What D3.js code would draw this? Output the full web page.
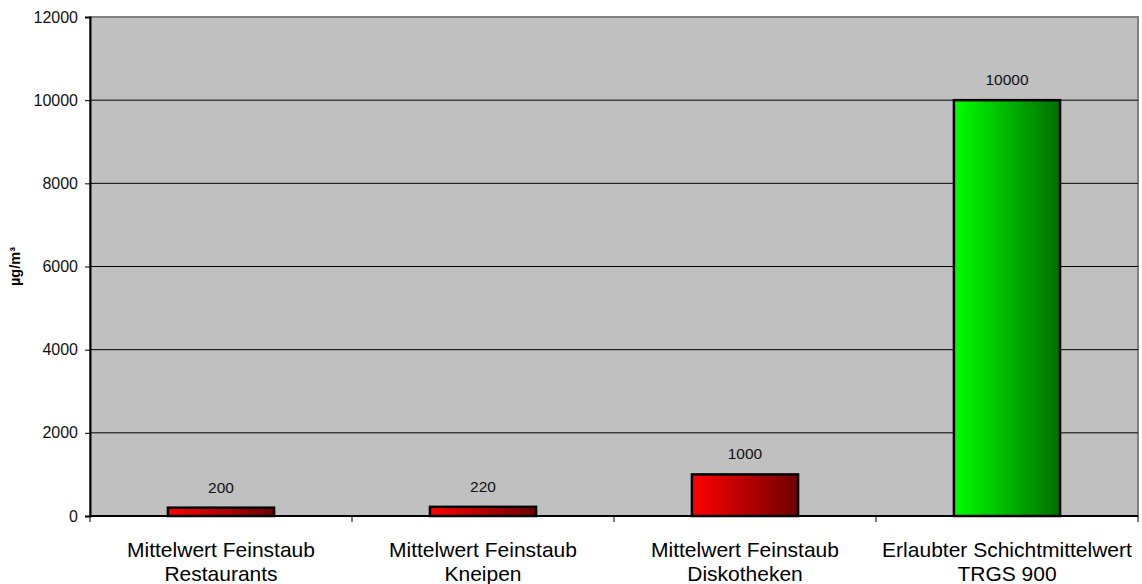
<!DOCTYPE html>
<html>
<head>
<meta charset="utf-8">
<script src="https://d3js.org/d3.v7.min.js"></script>
<style>
  body { margin: 0; background: #fff; font-family: "Liberation Sans", Arial, sans-serif; }
</style>
</head>
<body>
<script>
// chart data
var categories = [
  ["Mittelwert Feinstaub", "Restaurants"],
  ["Mittelwert Feinstaub", "Kneipen"],
  ["Mittelwert Feinstaub", "Diskotheken"],
  ["Erlaubter Schichtmittelwert", "TRGS 900"]
];
var values = [200, 220, 1000, 10000];
var barKind = ["red", "red", "red", "green"];
var yTicks = [0, 2000, 4000, 6000, 8000, 10000, 12000];

var width = 1142, height = 584;
var margin = {left: 90, right: 4, top: 17, bottom: 68};

var svg = d3.select("body").append("svg")
  .attr("width", width).attr("height", height);

var defs = svg.append("defs");
var grads = {red: ["#ff0000", "#6e0000"], green: ["#00ff00", "#006e00"]};
Object.keys(grads).forEach(function(k) {
  var lg = defs.append("linearGradient").attr("id", "g-" + k)
    .attr("x1", "0%").attr("x2", "100%").attr("y1", "0%").attr("y2", "0%");
  lg.append("stop").attr("offset", "0%").attr("stop-color", grads[k][0]);
  lg.append("stop").attr("offset", "100%").attr("stop-color", grads[k][1]);
});

var x = d3.scaleBand()
  .domain(d3.range(categories.length))
  .range([margin.left, width - margin.right])
  .paddingInner(0.595).paddingOuter(0.2975);

var y = d3.scaleLinear().domain([0, 12000])
  .range([height - margin.bottom, margin.top]);

// plot background
svg.append("rect")
  .attr("x", margin.left).attr("y", margin.top)
  .attr("width", width - margin.right - margin.left)
  .attr("height", y(0) - margin.top)
  .attr("fill", "#c0c0c0").attr("stroke", "#808080").attr("stroke-width", 2);

// gridlines
svg.append("g").selectAll("line")
  .data(yTicks.filter(function(d){ return d > 0 && d < 12000; }))
  .enter().append("line")
  .attr("x1", margin.left).attr("x2", width - margin.right)
  .attr("y1", function(d){ return y(d); }).attr("y2", function(d){ return y(d); })
  .attr("stroke", "#000").attr("stroke-width", 1);

// bars
svg.append("g").selectAll("rect")
  .data(values)
  .enter().append("rect")
  .attr("x", function(d, i){ return x(i); })
  .attr("y", function(d){ return y(d); })
  .attr("width", x.bandwidth())
  .attr("height", function(d){ return y(0) - y(d); })
  .attr("fill", function(d, i){ return "url(#g-" + barKind[i] + ")"; })
  .attr("stroke", "#000").attr("stroke-width", 2.5);

// value labels
svg.append("g").selectAll("text")
  .data(values)
  .enter().append("text")
  .attr("x", function(d, i){ return x(i) + x.bandwidth() / 2; })
  .attr("y", function(d){ return y(d) - 15; })
  .attr("text-anchor", "middle")
  .attr("font-size", 15.5).attr("fill", "#111")
  .text(function(d){ return d; });

// y axis
var yAxis = svg.append("g")
  .attr("transform", "translate(" + margin.left + ",0)")
  .call(d3.axisLeft(y).tickValues(yTicks).tickSize(5).tickPadding(7).tickFormat(d3.format("d")));
yAxis.select(".domain").attr("stroke", "#000").attr("stroke-width", 2);
yAxis.selectAll(".tick line").attr("stroke", "#000");
yAxis.selectAll("text").attr("font-size", 16).attr("fill", "#111")
  .attr("font-family", "Liberation Sans, Arial, sans-serif");

// x axis with ticks at band boundaries
var xAxisG = svg.append("g");
xAxisG.append("line")
  .attr("x1", margin.left).attr("x2", width - margin.right)
  .attr("y1", y(0)).attr("y2", y(0))
  .attr("stroke", "#000").attr("stroke-width", 2);
var step = x.step();
xAxisG.selectAll("line.tk")
  .data(d3.range(categories.length + 1))
  .enter().append("line").attr("class", "tk")
  .attr("x1", function(i){ return margin.left + i * step; })
  .attr("x2", function(i){ return margin.left + i * step; })
  .attr("y1", y(0)).attr("y2", y(0) + 6)
  .attr("stroke", "#000");

// category labels
var lbl = svg.append("g").selectAll("text")
  .data(categories)
  .enter().append("text")
  .attr("x", function(d, i){ return x(i) + x.bandwidth() / 2; })
  .attr("y", y(0) + 41)
  .attr("text-anchor", "middle")
  .attr("font-size", 21).attr("fill", "#000");
lbl.selectAll("tspan")
  .data(function(d){ return d; })
  .enter().append("tspan")
  .attr("x", function(){ return d3.select(this.parentNode).attr("x"); })
  .attr("dy", function(d, i){ return i === 0 ? 0 : 24; })
  .text(function(d){ return d; });

// y title
svg.append("text")
  .attr("transform", "translate(20," + ((margin.top + y(0)) / 2) + ") rotate(-90)")
  .attr("text-anchor", "middle")
  .attr("font-size", 14.5).attr("font-weight", "bold")
  .text("µg/m³");
</script>
</body>
</html>
